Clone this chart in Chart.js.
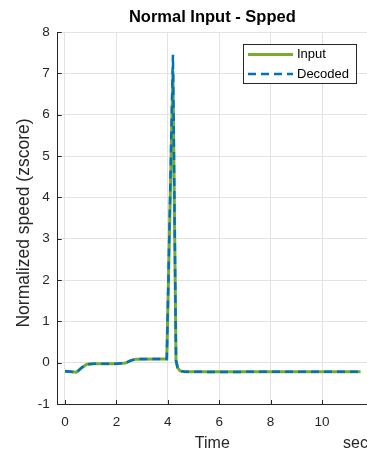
<!DOCTYPE html>
<html>
<head>
<meta charset="utf-8">
<script src="https://cdn.jsdelivr.net/npm/chart.js@4"></script>
<style>
  html, body { margin: 0; padding: 0; background: #fff; overflow: hidden; }
  #wrap { width: 367px; height: 451px; }
</style>
</head>
<body>
<div id="wrap">
  <canvas id="speedChart" width="367" height="451"></canvas>
</div>

<script>
  // values
  const timeSec = [0, 0.25, 0.45, 0.65, 0.85, 1.1, 2.0, 2.35, 2.55, 2.75, 3.5, 3.96, 4.2, 4.32, 4.38, 4.48, 4.65, 6, 8, 10, 11.5];
  const inputVals = [-0.21, -0.22, -0.23, -0.12, -0.04, -0.025, -0.025, -0.01, 0.05, 0.085, 0.09, 0.09, 7.05, 0.05, -0.12, -0.2, -0.22, -0.22, -0.22, -0.22, -0.22];
  const decodedVals = [-0.21, -0.22, -0.235, -0.12, -0.04, -0.025, -0.025, -0.01, 0.05, 0.085, 0.09, 0.09, 7.45, 0.05, -0.12, -0.2, -0.22, -0.225, -0.22, -0.22, -0.22];
  const xTickVals = [0, 2, 4, 6, 8, 10];
  const yTickVals = [-1, 0, 1, 2, 3, 4, 5, 6, 7, 8];

  const axisColor = "#262626";
  const fontName = "'Liberation Sans', Arial, sans-serif";

  function toPoints(xs, ys) {
    return xs.map((x, i) => ({ x: x, y: ys[i] }));
  }

  // ticks pointing inward (matlab style) + extra axis texts
  const innerTicks = {
    id: "innerTicks",
    afterDraw(chart) {
      const ctx = chart.ctx;
      const xs = chart.scales.x, ys = chart.scales.y;
      const a = chart.chartArea;
      ctx.save();
      ctx.strokeStyle = axisColor;
      ctx.lineWidth = 1;
      ctx.beginPath();
      xTickVals.forEach((v) => {
        const px = Math.round(xs.getPixelForValue(v)) + 0.5;
        ctx.moveTo(px, a.bottom);
        ctx.lineTo(px, a.bottom - 4);
      });
      yTickVals.forEach((v) => {
        const py = Math.round(ys.getPixelForValue(v)) + 0.5;
        ctx.moveTo(a.left, py);
        ctx.lineTo(a.left + 4, py);
      });
      ctx.stroke();

      ctx.fillStyle = axisColor;
      ctx.textBaseline = "middle";
      ctx.textAlign = "left";
      ctx.font = "16px " + fontName;
      ctx.fillText("sec", 343, 444);

      // y axis title
      ctx.translate(24, 223);
      ctx.rotate(-Math.PI / 2);
      ctx.textAlign = "center";
      ctx.font = "17.5px " + fontName;
      ctx.fillText("Normalized speed (zscore)", 0, 0);
      ctx.restore();
    },
  };

  // legend box inside the plot
  const boxLegend = {
    id: "boxLegend",
    afterDraw(chart) {
      const ctx = chart.ctx;
      const sets = chart.data.datasets;
      ctx.save();
      ctx.fillStyle = "#fff";
      ctx.fillRect(243.5, 44.5, 113, 39);
      ctx.strokeStyle = axisColor;
      ctx.lineWidth = 1;
      ctx.strokeRect(243.5, 44.5, 113, 39);
      const rows = [54.5, 74];
      sets.forEach((ds, i) => {
        ctx.beginPath();
        ctx.strokeStyle = ds.borderColor;
        ctx.lineWidth = ds.borderWidth;
        ctx.setLineDash(ds.borderDash || []);
        ctx.moveTo(248, rows[i]);
        ctx.lineTo(293, rows[i]);
        ctx.stroke();
        ctx.setLineDash([]);
        ctx.fillStyle = "#000";
        ctx.font = "13px " + fontName;
        ctx.textBaseline = "middle";
        ctx.fillText(ds.label, 297, rows[i]);
      });
      ctx.restore();
    },
  };

  const ctx = document.getElementById("speedChart").getContext("2d");
  new Chart(ctx, {
    type: "scatter",
    data: {
      datasets: [
        {
          label: "Input",
          data: toPoints(timeSec, inputVals),
          showLine: true,
          borderColor: "#77AC30",
          borderWidth: 3,
          pointRadius: 0,
          tension: 0,
          order: 2,
        },
        {
          label: "Decoded",
          data: toPoints(timeSec, decodedVals),
          showLine: true,
          borderColor: "#0072BD",
          borderWidth: 2.5,
          borderDash: [8, 5],
          pointRadius: 0,
          tension: 0,
          order: 1,
        },
      ],
    },
    plugins: [innerTicks, boxLegend],
    options: {
      responsive: false,
      animation: false,
      layout: { padding: 0 },
      plugins: {
        legend: { display: false },
        tooltip: { enabled: false },
        title: {
          display: true,
          text: "Normal Input - Spped",
          fullSize: false,
          color: "#000",
          font: { family: fontName, size: 16.5, weight: "bold", lineHeight: 1.2 },
          padding: { top: 7.6, bottom: 4.6 },
        },
      },
      scales: {
        x: {
          type: "linear",
          min: -0.284,
          max: 11.75,
          afterBuildTicks: (s) => { s.ticks = xTickVals.map((v) => ({ value: v })); },
          afterFit: (s) => { s.height = 47; },
          grid: { color: "#e3e3e3", drawTicks: false, tickLength: 0 },
          border: { display: true, color: axisColor, width: 1 },
          ticks: {
            color: axisColor,
            padding: 10,
            maxRotation: 0,
            font: { family: fontName, size: 13.5 },
          },
          title: {
            display: true,
            text: "Time",
            color: axisColor,
            font: { family: fontName, size: 16, lineHeight: 0.8 },
            padding: { top: 0.6, bottom: 0.6 },
          },
        },
        y: {
          type: "linear",
          min: -1,
          max: 8,
          afterBuildTicks: (s) => { s.ticks = yTickVals.map((v) => ({ value: v })); },
          afterFit: (s) => { s.width = 57.7; },
          grid: { color: "#e3e3e3", drawTicks: false, tickLength: 0 },
          border: { display: true, color: axisColor, width: 1 },
          ticks: {
            color: axisColor,
            padding: 8,
            font: { family: fontName, size: 13.5 },
          },
        },
      },
    },
  });
</script>
</body>
</html>
